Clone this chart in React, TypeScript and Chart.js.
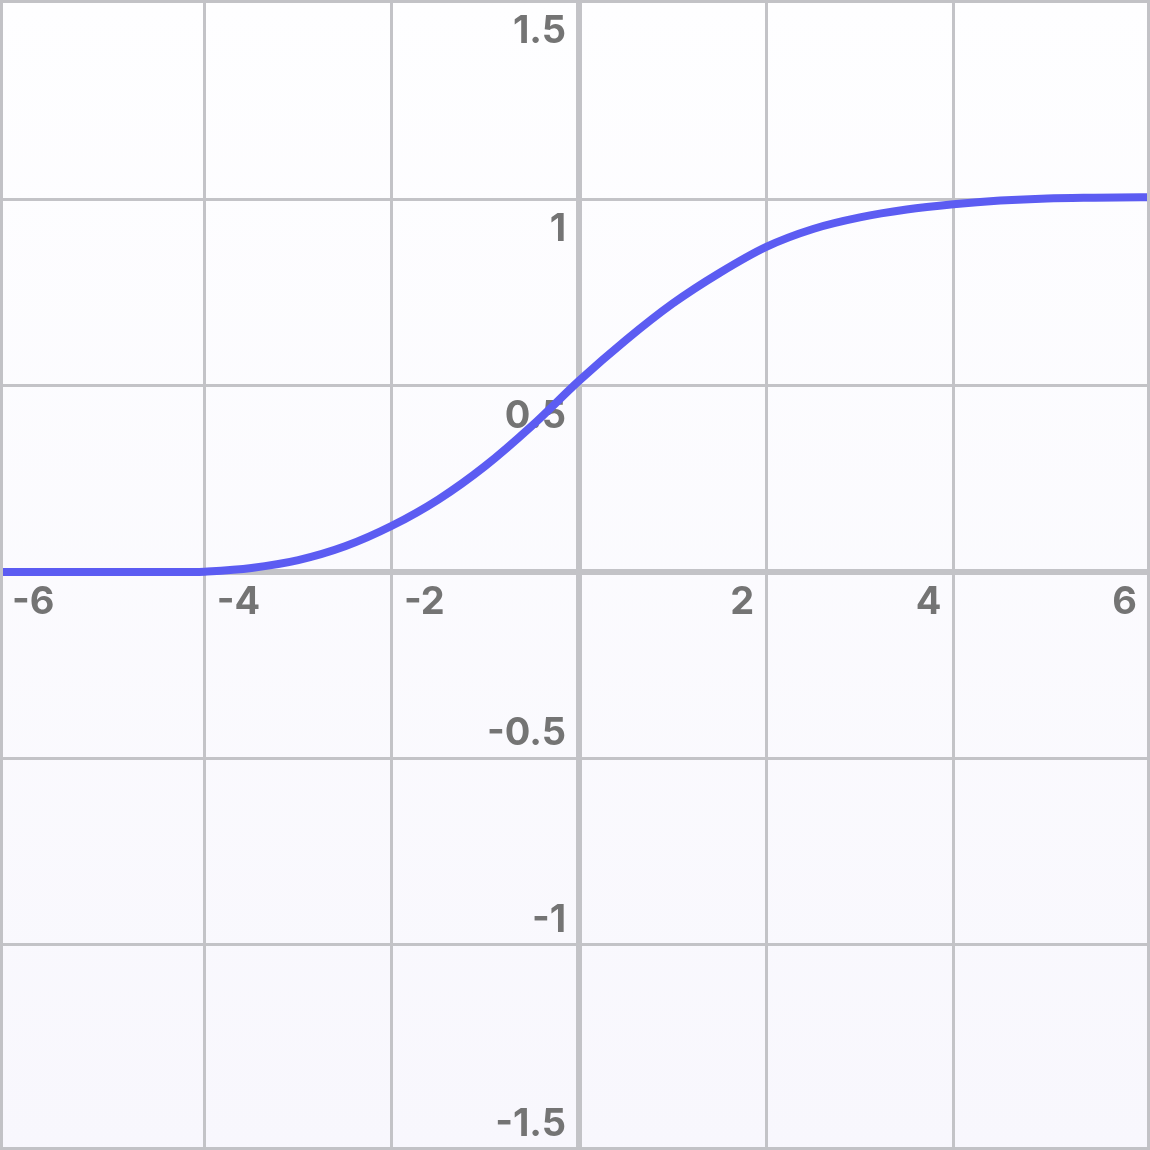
import React, { useEffect, useRef } from "react";
import { Chart, registerables } from "chart.js";

Chart.register(...registerables);

// Curve samples (x, y)
const curveX = [-6.2, -5, -4.1, -4, -3.5, -3, -2.5, -2, -1.5, -1, -0.5, 0, 0.5, 1, 1.5, 2, 2.5, 3, 3.5, 4, 4.5, 5, 5.5, 6, 6.1];
const curveY = [0, 0, 0, 0.001, 0.011, 0.032, 0.069, 0.124, 0.195, 0.285, 0.393, 0.513, 0.622, 0.72, 0.802, 0.872, 0.92, 0.951, 0.972, 0.986, 0.996, 1.002, 1.004, 1.005, 1.005];

// Grid lines and tick labels
const xGridValues = [-4, -2, 0, 2, 4];
const yGridValues = [-1, -0.5, 0, 0.5, 1];
const xTickLabels = [-6, -4, -2, 2, 4, 6];
const yTickLabels = [-1.5, -1, -0.5, 0.5, 1, 1.5];

const X_MIN = -6.187;
const X_MAX = 6.1;
const Y_MIN = -1.55;
const Y_MAX = 1.534;

const SIZE = 1150;

export default function App() {
  const ref = useRef<HTMLCanvasElement | null>(null);

  useEffect(() => {
    document.body.style.margin = "0";
    const canvas = ref.current;
    if (!canvas) return;

    const bgPlugin = {
      id: "bg",
      beforeDraw(chart: any) {
        const { ctx, width, height } = chart;
        ctx.save();
        const g = ctx.createLinearGradient(0, 0, 0, height);
        g.addColorStop(0, "#fefeff");
        g.addColorStop(1, "#f8f7fd");
        ctx.fillStyle = g;
        ctx.fillRect(0, 0, width, height);
        ctx.restore();
      },
    };

    const labelPlugin = {
      id: "axisLabels",
      beforeDatasetsDraw(chart: any) {
        const { ctx, width, height } = chart;
        const xs = chart.scales.x;
        const ys = chart.scales.y;
        const ox = xs.getPixelForValue(0);
        const oy = ys.getPixelForValue(0);
        ctx.save();
        ctx.fillStyle = "#747474";
        ctx.font = "bold 38px Inter, 'Open Sans', sans-serif";
        ctx.textBaseline = "top";
        const capTop = oy + 12;
        const xMinL = Math.min(...xTickLabels);
        const xMaxL = Math.max(...xTickLabels);
        xTickLabels.forEach((v) => {
          const p = xs.getPixelForValue(v);
          const t = String(v);
          if (v < 0) {
            ctx.textAlign = "left";
            const x = v === xMinL ? 12 : p + 12;
            ctx.fillText(t, x, capTop);
          } else {
            ctx.textAlign = "right";
            const x = v === xMaxL ? width - 13 : p - 12;
            ctx.fillText(t, x, capTop);
          }
        });
        ctx.textAlign = "right";
        ctx.textBaseline = "alphabetic";
        const yMinL = Math.min(...yTickLabels);
        const yMaxL = Math.max(...yTickLabels);
        yTickLabels.forEach((v) => {
          const p = ys.getPixelForValue(v);
          const t = String(v);
          if (v > 0) {
            const base = v === yMaxL ? 43 : p + 42;
            ctx.fillText(t, ox - 13, base);
          } else {
            const base = v === yMinL ? height - 14 : p - 13;
            ctx.fillText(t, ox - 13, base);
          }
        });
        ctx.restore();
      },
      afterDraw(chart: any) {
        const { ctx, width, height } = chart;
        ctx.save();
        ctx.strokeStyle = "#c2c2c6";
        ctx.lineWidth = 3;
        ctx.strokeRect(1.5, 1.5, width - 3, height - 3);
        ctx.restore();
      },
    };

    const chart = new Chart(canvas, {
      type: "line",
      data: {
        datasets: [
          {
            data: curveX.map((x, i) => ({ x, y: curveY[i] })),
            borderColor: "#5c5cf2",
            borderWidth: 8,
            pointRadius: 0,
            cubicInterpolationMode: "monotone",
            fill: false,
            borderCapStyle: "round",
            borderJoinStyle: "round",
          },
        ],
      },
      options: {
        animation: false,
        responsive: false,
        events: [],
        layout: { padding: 0 },
        plugins: { legend: { display: false }, tooltip: { enabled: false } },
        scales: {
          x: {
            type: "linear",
            min: X_MIN,
            max: X_MAX,
            afterBuildTicks: (s: any) => {
              s.ticks = xGridValues.map((value) => ({ value }));
            },
            ticks: { display: false },
            border: { display: false },
            grid: {
              drawTicks: false,
              color: "#c3c3c7",
              lineWidth: (c: any) => (c.tick && c.tick.value === 0 ? 6 : 3),
            },
          },
          y: {
            type: "linear",
            min: Y_MIN,
            max: Y_MAX,
            afterBuildTicks: (s: any) => {
              s.ticks = yGridValues.map((value) => ({ value }));
            },
            ticks: { display: false },
            border: { display: false },
            grid: {
              drawTicks: false,
              color: "#c3c3c7",
              lineWidth: (c: any) => (c.tick && c.tick.value === 0 ? 6 : 3),
            },
          },
        },
      },
      plugins: [bgPlugin, labelPlugin],
    });

    return () => chart.destroy();
  }, []);

  return <canvas ref={ref} width={SIZE} height={SIZE} style={{ display: "block" }} />;
}
